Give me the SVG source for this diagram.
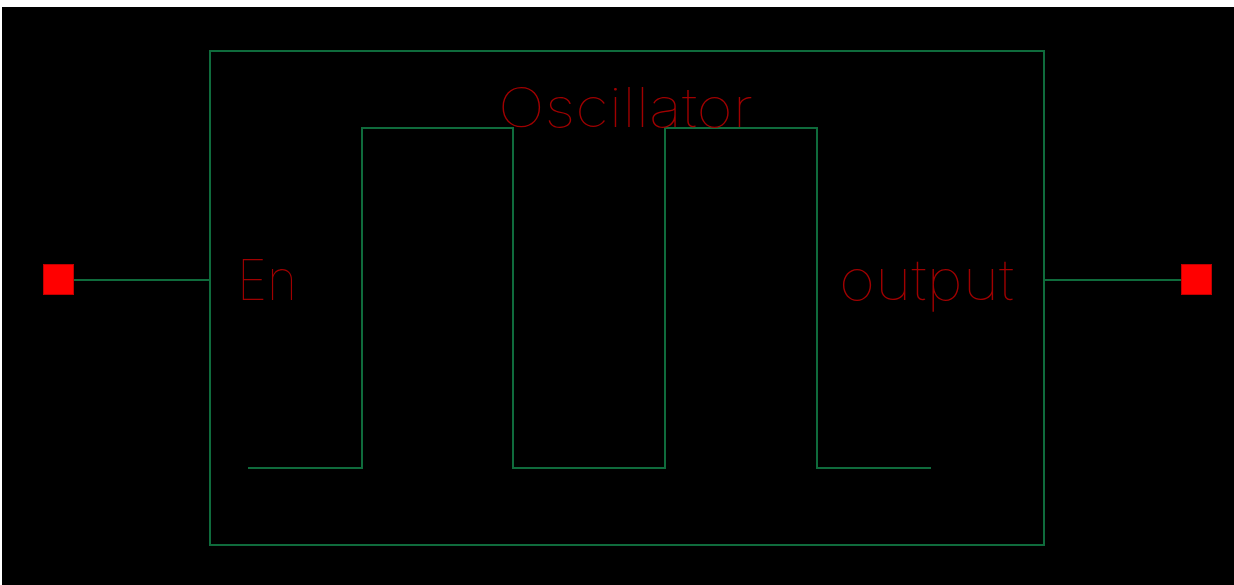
<svg xmlns="http://www.w3.org/2000/svg" width="1234" height="585" viewBox="0 0 1234 585">
<style>
.w{fill:none;stroke:#0f6b3c;stroke-width:2}
.lbl{font-family:Inter,"Liberation Sans",sans-serif;font-weight:100;fill:#a00000}
.pin{fill:#ff0000;stroke:#c00000;stroke-width:1}
</style>
<rect x="0" y="0" width="1234" height="585" fill="#ffffff"/>
<rect x="2" y="7" width="1232" height="578" fill="#000000"/>
<g id="oscillator">
<rect class="w" x="210" y="51" width="834" height="494"/>
<polyline class="w" points="248,468 362,468 362,128 513,128 513,468 665,468 665,128 817,128 817,468 931,468"/>
<text class="lbl" x="498" y="127" font-size="54" textLength="255" lengthAdjust="spacingAndGlyphs">Oscillator</text>
<text class="lbl" x="237" y="300" font-size="56" textLength="60" lengthAdjust="spacingAndGlyphs">En</text>
<text class="lbl" x="839" y="300" font-size="56" textLength="175" lengthAdjust="spacingAndGlyphs">output</text>
</g>
<g id="pin-en">
<rect class="pin" x="43.5" y="264.5" width="30" height="30"/>
</g>
<g id="pin-output">
<rect class="pin" x="1181.5" y="264.5" width="30" height="30"/>
</g>
<g id="connectors">
<line class="w" x1="74" y1="280" x2="210" y2="280"/>
<line class="w" x1="1044" y1="280" x2="1181" y2="280"/>
</g>
</svg>
